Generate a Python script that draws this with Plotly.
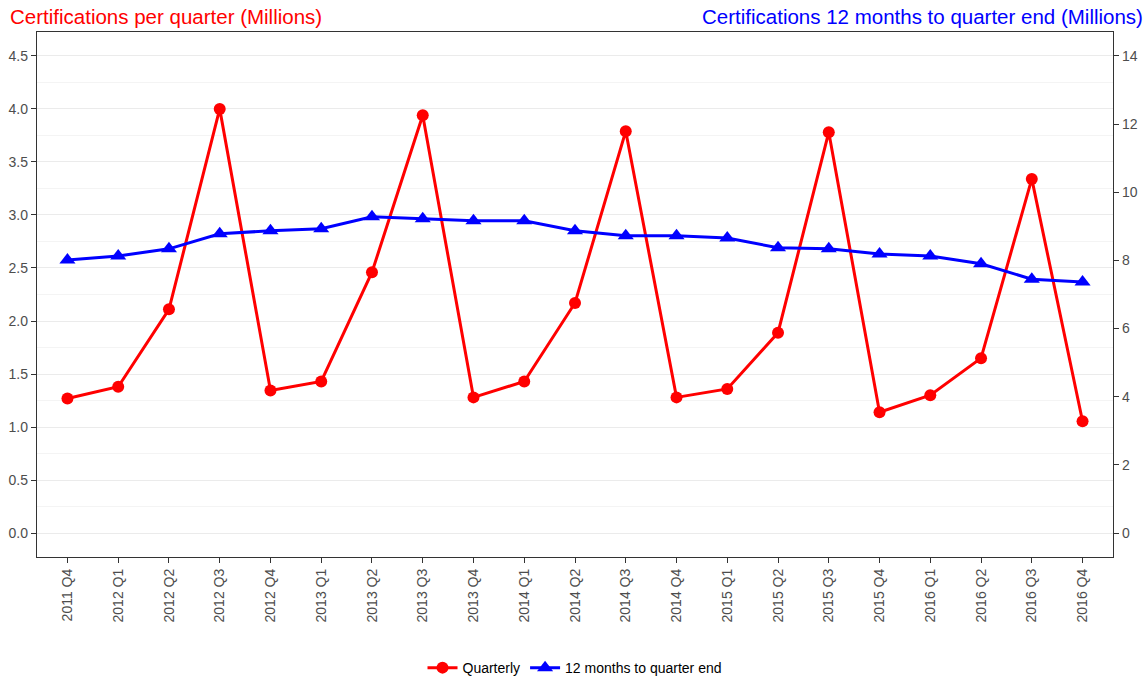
import plotly.graph_objects as go

quarters = ["2011 Q4", "2012 Q1", "2012 Q2", "2012 Q3", "2012 Q4", "2013 Q1", "2013 Q2",
            "2013 Q3", "2013 Q4", "2014 Q1", "2014 Q2", "2014 Q3", "2014 Q4", "2015 Q1",
            "2015 Q2", "2015 Q3", "2015 Q4", "2016 Q1", "2016 Q2", "2016 Q3", "2016 Q4"]
quarterly = [1.27, 1.38, 2.11, 4.00, 1.345, 1.43, 2.46, 3.94, 1.28, 1.43, 2.17, 3.79,
             1.28, 1.36, 1.89, 3.78, 1.14, 1.30, 1.65, 3.34, 1.055]
rolling12 = [8.01, 8.13, 8.34, 8.78, 8.87, 8.93, 9.28, 9.22, 9.16, 9.16, 8.87, 8.72,
             8.72, 8.66, 8.37, 8.34, 8.19, 8.13, 7.90, 7.45, 7.37]
left_ticks = [0.0, 0.5, 1.0, 1.5, 2.0, 2.5, 3.0, 3.5, 4.0, 4.5]
right_ticks = [0, 2, 4, 6, 8, 10, 12, 14]

fig = go.Figure()
fig.add_trace(go.Scatter(x=quarters, y=quarterly, name="Quarterly", mode="lines+markers",
                         line=dict(color="#ff0000", width=3),
                         marker=dict(symbol="circle", size=12, color="#ff0000")))
fig.add_trace(go.Scatter(x=quarters, y=rolling12, name="12 months to quarter end",
                         mode="lines+markers", yaxis="y2",
                         line=dict(color="#0000ff", width=3),
                         marker=dict(symbol="triangle-up", size=14, color="#0000ff")))

axis_font = dict(family="Liberation Sans, Arial, sans-serif", size=14, color="#4d4d4d")
fig.update_layout(
    template="none",
    width=1147, height=680,
    margin=dict(l=37, r=34, t=32, b=123, autoexpand=False),
    plot_bgcolor="white", paper_bgcolor="white",
    font=dict(family="Liberation Sans, Arial, sans-serif"),
    showlegend=True,
    legend=dict(orientation="h", x=0.5, xanchor="center", y=-0.181, yanchor="top",
                font=dict(size=14, color="#000000"), itemwidth=30, traceorder="normal",
                bgcolor="rgba(0,0,0,0)"),
    xaxis=dict(type="category", range=[-0.6, 20.6], tickangle=-90, tickfont=axis_font,
               automargin=False,
               showgrid=False, showline=True, mirror=True, linecolor="#333333", linewidth=1.3,
               ticks="outside", ticklen=5, tickcolor="#333333", zeroline=False),
    yaxis=dict(range=[-0.225, 4.725], tickvals=left_ticks, automargin=False,
               ticktext=[f"{v:.1f}" for v in left_ticks], tickfont=axis_font,
               showgrid=True, gridcolor="#ebebeb", gridwidth=1,
               minor=dict(dtick=0.25, tick0=0, showgrid=True, gridcolor="#f4f4f4", gridwidth=1),
               showline=True, mirror=True, linecolor="#333333", linewidth=1.3,
               ticks="outside", ticklen=5, tickcolor="#333333", zeroline=False),
    yaxis2=dict(range=[-0.7, 14.7], tickvals=right_ticks, overlaying="y", side="right",
                automargin=False,
                tickfont=axis_font, showgrid=False, showline=True, linecolor="#333333",
                linewidth=1.3, ticks="outside", ticklen=5, tickcolor="#333333", zeroline=False),
    annotations=[
        dict(text="Certifications per quarter (Millions)", xref="paper", yref="paper",
             x=0, y=1, xshift=-29, yshift=2, xanchor="left", yanchor="bottom", showarrow=False,
             font=dict(size=20.5, color="#ff0000")),
        dict(text="Certifications 12 months to quarter end (Millions)", xref="paper", yref="paper",
             x=1, y=1, xshift=32, yshift=2, xanchor="right", yanchor="bottom", showarrow=False,
             font=dict(size=20.5, color="#0000ff")),
    ],
)
fig.write_html("out.html", config={"displayModeBar": False},
               post_script="document.body.style.margin='0';")
